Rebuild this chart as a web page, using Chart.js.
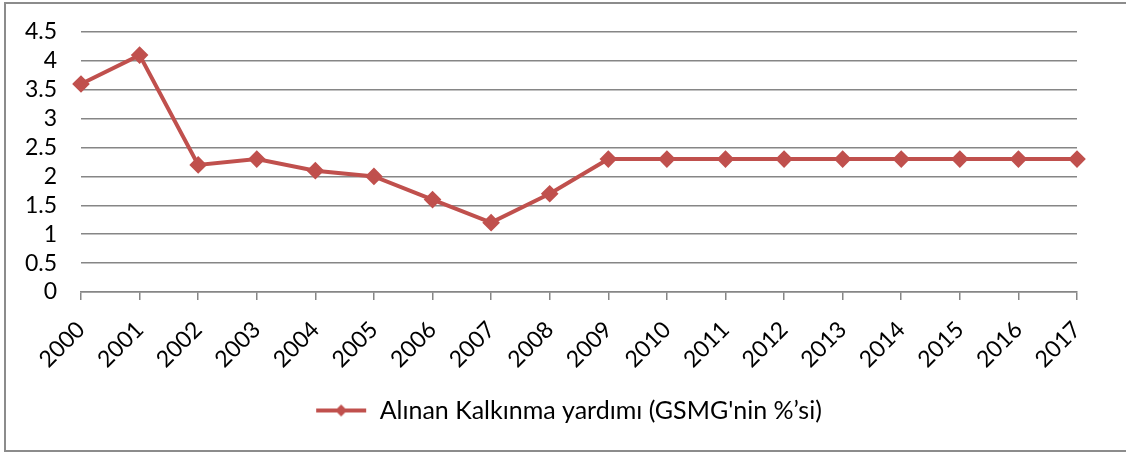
<!DOCTYPE html>
<html><head><meta charset="utf-8">
<script src="https://cdn.jsdelivr.net/npm/chart.js@4/dist/chart.umd.min.js"></script>
<style>html,body{margin:0;padding:0;background:#fff}#wrap{width:1126px;height:454px;position:relative}</style>
</head><body><div id="wrap"><canvas id="c" width="1126" height="454"></canvas></div>
<script>
const categories = ['2000','2001','2002','2003','2004','2005','2006','2007','2008','2009','2010','2011','2012','2013','2014','2015','2016','2017'];
const seriesName = "Alınan Kalkınma yardımı (GSMG'nin %’si)";
const seriesValues = [3.6,4.1,2.2,2.3,2.1,2.0,1.6,1.2,1.7,2.3,2.3,2.3,2.3,2.3,2.3,2.3,2.3,2.3];
const yTicks = [0,0.5,1,1.5,2,2.5,3,3.5,4,4.5];

const RED = '#C0504D';
const FONT = 'Lato, "Open Sans", sans-serif';

// legend swatch: line with diamond (transparent left margin to shift the legend item right)
const SHIFT = 60;
const sw = document.createElement('canvas');
sw.width = 52 + SHIFT; sw.height = 14;
(function(){const g=sw.getContext('2d');const o=SHIFT;g.strokeStyle=RED;g.lineWidth=4;g.beginPath();g.moveTo(o+1,7);g.lineTo(o+51,7);g.stroke();
g.fillStyle=RED;g.beginPath();g.moveTo(o+26,1);g.lineTo(o+32,7);g.lineTo(o+26,13);g.lineTo(o+20,7);g.closePath();g.fill();})();

const borderPlugin = {id:'border', beforeDraw(chart){const c=chart.ctx;c.save();c.fillStyle='#fff';c.fillRect(0,0,chart.width,chart.height);
c.strokeStyle='#8c8c8c';c.lineWidth=2;c.beginPath();c.moveTo(1130,3);c.lineTo(5,3);c.lineTo(5,451);c.lineTo(1130,451);c.stroke();c.restore();}};

new Chart(document.getElementById('c'), {
  type:'line',
  data:{labels:categories, datasets:[{label:seriesName, data:seriesValues, borderColor:RED, backgroundColor:RED, borderWidth:4,
    pointStyle:'rectRot', pointRadius:6, pointHoverRadius:6, pointBackgroundColor:RED, pointBorderColor:RED, tension:0}]},
  options:{responsive:false, animation:false, devicePixelRatio:1,
    layout:{padding:{left:0,right:49,top:32,bottom:21}},
    plugins:{tooltip:{enabled:false},
      legend:{position:'bottom', labels:{usePointStyle:true, pointStyleWidth:52+SHIFT, font:{family:FONT,size:25}, color:'#000', padding:11,
        generateLabels(chart){return [{text:seriesName, pointStyle:sw, fillStyle:RED, strokeStyle:RED, lineWidth:0, datasetIndex:0}];}}}},
    scales:{
      x:{offset:false, afterFit(s){s.height=95;},
        grid:{display:true, drawOnChartArea:false, drawTicks:true, tickLength:8, color:'#868686', lineWidth:1.5},
        border:{display:true,color:'#868686',width:1.5},
        ticks:{font:{family:FONT,size:23}, color:'#000', minRotation:45, maxRotation:45, autoSkip:false, padding:16}},
      y:{min:0,max:4.5, afterBuildTicks(s){s.ticks=yTicks.map(v=>({value:v}));},
        afterFit(s){s.width=81;s.paddingTop=14;s.paddingBottom=14;},
        grid:{color:'#868686', lineWidth:1.5, drawTicks:false}, border:{display:false},
        ticks:{font:{family:FONT,size:23}, color:'#000', padding:24, autoSkip:false, callback:v=>String(v)}}
    }
  },
  plugins:[borderPlugin]
});
</script></body></html>
